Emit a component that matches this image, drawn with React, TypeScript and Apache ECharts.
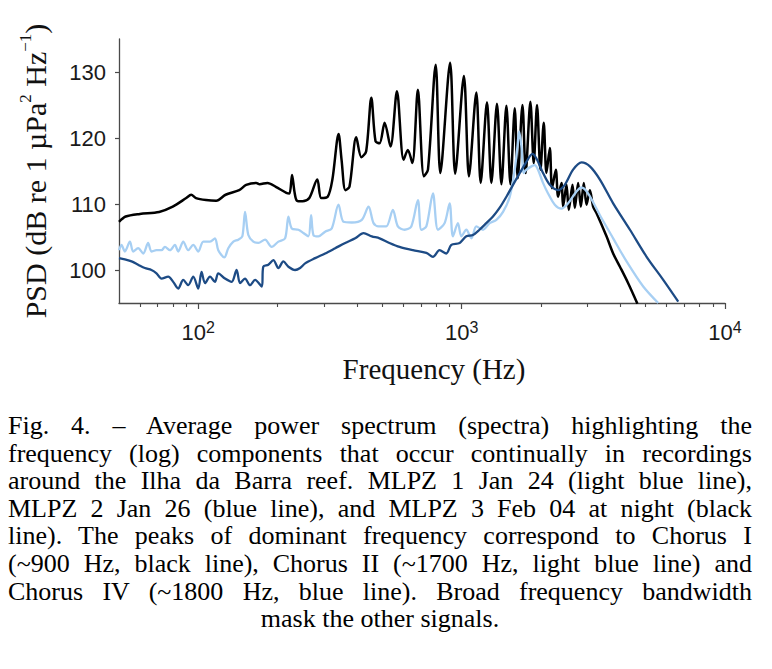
import React, { useEffect, useRef } from "react";
import * as echarts from "echarts";

// ---- Data (frequency in Hz, PSD in dB re 1 µPa² Hz⁻¹) ----
const blackFreq = [50, 53, 60, 71, 80, 90, 94, 98, 107, 117, 127, 143, 152, 166, 171, 183, 197, 216, 222, 227, 232, 237, 249, 264, 283, 293, 310, 323, 341, 350, 362, 375, 398, 416, 434, 454, 471, 488, 510, 537, 568, 602, 625, 650, 682, 719, 745, 797, 830, 904, 945, 1020, 1066, 1137, 1181, 1248, 1297, 1362, 1416, 1479, 1532, 1591, 1633, 1702, 1751, 1824, 1878, 1933, 1992, 2050, 2099, 2162, 2204, 2278, 2324, 2394, 2428, 2501, 2552, 2636, 2690, 2769, 2835, 2910, 2980, 3069, 3157, 3253, 3549, 3761, 3991, 4289, 4650];
const blackPsd = [107.3, 108.1, 108.5, 108.8, 109.6, 110.9, 111.4, 110.9, 110.6, 110.5, 111.4, 112.1, 112.9, 113.2, 113.0, 113.2, 112.6, 111.7, 111.6, 114.4, 111.8, 110.5, 110.4, 110.9, 113.7, 110.9, 111.1, 113.7, 120.6, 116.7, 112.1, 112.6, 120.1, 117.1, 118.0, 126.1, 119.5, 119.2, 122.3, 118.7, 127.1, 116.7, 118.2, 116.2, 127.3, 114.2, 115.2, 131.1, 114.7, 131.4, 114.6, 129.4, 114.2, 126.9, 113.2, 125.4, 113.2, 125.2, 113.0, 124.9, 113.0, 124.5, 113.9, 125.0, 114.7, 125.5, 116.2, 125.0, 115.2, 122.3, 114.7, 118.5, 112.4, 115.2, 111.1, 113.2, 109.6, 112.9, 109.1, 112.9, 109.4, 113.2, 109.6, 113.2, 109.9, 112.1, 109.6, 108.6, 105.1, 102.5, 100.5, 98.0, 94.9];

const lightFreq = [50, 51.1, 52.6, 55.0, 56.6, 59.1, 61.8, 64.5, 66.4, 69.4, 72.5, 74.7, 78.1, 81.5, 83.9, 87.7, 91.6, 95.7, 100, 104.5, 110.8, 115.7, 119.1, 125.6, 130, 135.9, 141.9, 147, 150.5, 154.9, 161.8, 169.1, 179.3, 189.9, 201.5, 213.6, 219.9, 226.4, 240, 250.7, 261.9, 268.2, 273.7, 286, 303.1, 321.2, 340.7, 355.9, 382.7, 417.8, 443.1, 462.9, 483.5, 517.2, 548.1, 572.6, 607.3, 643.9, 682.2, 702.9, 734.4, 778.1, 812.9, 861.7, 900.4, 926.6, 968, 997.4, 1042, 1089, 1137, 1205, 1278, 1355, 1436, 1523, 1591, 1629, 1652, 1687, 1721, 1762, 1841, 1895, 1950, 2037, 2129, 2258, 2394, 2537, 2730, 2852, 3021, 3350, 3761, 4229, 4892, 5577];
const lightPsd = [103.0, 103.8, 102.8, 104.3, 102.8, 103.3, 102.5, 104.1, 102.8, 103.0, 103.0, 103.5, 103.0, 103.8, 102.8, 104.3, 103.0, 103.8, 102.8, 104.3, 104.3, 104.8, 103.0, 101.9, 103.3, 104.3, 104.6, 105.1, 108.8, 105.3, 104.3, 104.1, 104.6, 103.5, 104.3, 104.8, 108.1, 106.3, 106.1, 105.6, 105.1, 108.3, 105.3, 105.1, 105.8, 106.3, 109.9, 107.3, 107.2, 107.6, 109.6, 107.1, 106.6, 106.6, 109.1, 106.6, 106.1, 106.6, 110.6, 106.1, 106.6, 111.6, 106.1, 107.1, 110.1, 105.1, 107.1, 105.1, 106.1, 104.8, 106.6, 106.1, 107.1, 107.6, 108.8, 111.1, 115.2, 118.7, 121.0, 118.7, 114.7, 115.2, 115.7, 115.9, 115.2, 113.2, 111.6, 109.9, 109.3, 110.1, 111.9, 112.5, 111.6, 108.3, 104.8, 101.3, 97.5, 95.0];

const darkFreq = [50, 52.6, 55.8, 59.1, 62.7, 66.4, 69.4, 72.5, 76.9, 80.3, 83.9, 87.7, 91.6, 95.7, 100, 102.9, 106.1, 110.8, 115.7, 119.1, 126.3, 133.9, 139.8, 144.1, 150.5, 157.3, 164.3, 174.1, 176.6, 184.5, 192.8, 201.5, 210.4, 219.9, 233.2, 243.6, 254.5, 277.8, 303.1, 331.1, 361.3, 394.3, 424.1, 456, 488, 532, 581, 653, 734.4, 778.1, 824, 874.5, 913.8, 982.7, 1042, 1104, 1169, 1241, 1315, 1393, 1479, 1567, 1663, 1762, 1857, 1923, 2037, 2162, 2324, 2464, 2650, 2852, 3069, 3350, 3761, 4356, 5039, 5827, 6645];
const darkPsd = [101.8, 101.6, 101.3, 100.8, 100.3, 100.0, 99.5, 98.7, 99.0, 98.2, 97.2, 98.5, 97.7, 99.0, 97.2, 99.7, 98.0, 99.0, 98.2, 99.5, 98.7, 98.2, 100.0, 98.0, 98.7, 97.7, 98.5, 97.5, 100.5, 100.8, 101.5, 100.3, 101.3, 100.5, 100.0, 100.3, 101.0, 101.8, 102.5, 103.3, 104.1, 104.8, 105.6, 105.1, 104.8, 104.1, 103.5, 103.0, 102.6, 102.0, 103.0, 102.5, 103.8, 104.1, 105.1, 105.3, 106.1, 107.1, 108.1, 109.4, 111.1, 112.9, 114.7, 116.4, 117.6, 116.9, 114.7, 112.9, 112.1, 112.9, 115.2, 116.3, 115.7, 113.7, 110.1, 106.1, 102.0, 98.5, 95.2];

// axis ticks
const xMinHz = 50;
const xMaxHz = 10000;
const majorTickHz = [100, 1000, 10000];
const minorTickHz = [60, 70, 80, 90, 200, 300, 400, 500, 600, 700, 800, 900, 2000, 3000, 4000, 5000, 6000, 7000, 8000, 9000];
const yMin = 95;
const yMax = 135;
const yTicks = [100, 110, 120, 130];

const captionLines = [
  "Fig. 4. \u2013 Average power spectrum (spectra) highlighting the",
  "frequency (log) components that occur continually in recordings",
  "around the Ilha da Barra reef. MLPZ 1 Jan 24 (light blue line),",
  "MLPZ 2 Jan 26 (blue line), and MLPZ 3 Feb 04 at night (black",
  "line). The peaks of dominant frequency correspond to Chorus I",
  "(~900 Hz, black line), Chorus II (~1700 Hz, light blue line) and",
  "Chorus IV (~1800 Hz, blue line). Broad frequency bandwidth",
  "mask the other signals.",
];

const AXIS = "#4a4a4a";
const SANS = '"Liberation Sans", Arial, sans-serif';
const SERIF = '"Liberation Serif", "Times New Roman", serif';

const toPairs = (f: number[], v: number[]) => f.map((x, i) => [Math.log10(x), v[i]]);

function buildOption() {
  const lineSeries = (name: string, f: number[], v: number[], color: string, width: number) => ({
    name,
    type: "line",
    data: toPairs(f, v),
    showSymbol: false,
    symbol: "none",
    smooth: 0.3,
    clip: true,
    lineStyle: { color, width },
  });
  return {
    animation: false,
    backgroundColor: "#ffffff",
    grid: { left: 119, top: 39, width: 606, height: 264, containLabel: false },
    xAxis: [
      {
        type: "value",
        min: Math.log10(xMinHz),
        max: Math.log10(xMaxHz),
        position: "bottom",
        axisLine: { show: true, lineStyle: { color: AXIS, width: 1.3 } },
        axisTick: {
          show: true,
          customValues: majorTickHz.map((h) => Math.log10(h)),
          length: 6,
          lineStyle: { color: AXIS, width: 1.2 },
        },
        axisLabel: {
          customValues: majorTickHz.map((h) => Math.log10(h)),
          margin: 16,
          formatter: (v: number) => `{b|10}{s|${Math.round(v)}}`,
          rich: {
            b: { fontSize: 22, fontFamily: SANS, color: "#1a1a1a", lineHeight: 26 },
            s: { fontSize: 16, fontFamily: SANS, color: "#1a1a1a", lineHeight: 10, verticalAlign: "top" },
          },
        },
        splitLine: { show: false },
        name: "Frequency (Hz)",
        nameLocation: "middle",
        nameGap: 51,
        nameTextStyle: {
          fontFamily: SERIF,
          fontSize: 29,
          color: "#111",
          padding: [0, 0, 0, 24],
        },
      },
      {
        type: "value",
        min: Math.log10(xMinHz),
        max: Math.log10(xMaxHz),
        position: "bottom",
        offset: 0,
        axisLine: { show: false },
        axisTick: {
          show: true,
          customValues: minorTickHz.map((h) => Math.log10(h)),
          length: 4,
          lineStyle: { color: AXIS, width: 1.1 },
        },
        axisLabel: { show: false },
        splitLine: { show: false },
      },
    ],
    yAxis: {
      type: "value",
      min: yMin,
      max: yMax,
      axisLine: { show: true, lineStyle: { color: AXIS, width: 1.3 } },
      axisTick: { show: true, customValues: yTicks, length: 4, lineStyle: { color: AXIS, width: 1.2 } },
      axisLabel: {
        customValues: yTicks,
        margin: 13,
        fontSize: 22,
        fontFamily: SANS,
        color: "#1a1a1a",
      },
      splitLine: { show: false },
      name: "PSD (dB re 1 \u00b5Pa{s|2} Hz{s|\u22121})",
      nameLocation: "middle",
      nameRotate: 90,
      nameGap: 66,
      nameTextStyle: {
        fontFamily: SERIF,
        fontSize: 30,
        color: "#111",
        lineHeight: 36,
        padding: [0, 0, 0, 0],
        rich: {
          s: { fontFamily: SERIF, fontSize: 17, color: "#111", lineHeight: 14, verticalAlign: "top" },
        },
      },
    },
    series: [
      lineSeries("MLPZ 3 Feb 04 (night)", blackFreq, blackPsd, "#000000", 2.5),
      lineSeries("MLPZ 1 Jan 24", lightFreq, lightPsd, "#a7cff3", 2.3),
      lineSeries("MLPZ 2 Jan 26", darkFreq, darkPsd, "#1d4b85", 2.3),
    ],
  };
}

export default function App() {
  const ref = useRef<HTMLDivElement>(null);
  useEffect(() => {
    if (!ref.current) return;
    const chart = echarts.init(ref.current, null, { renderer: "svg" });
    chart.setOption(buildOption() as any);
    return () => chart.dispose();
  }, []);
  const last = captionLines.length - 1;
  return (
    <div style={{ position: "absolute", left: 0, top: 0, width: 772, height: 669, background: "#fff" }}>
      <div ref={ref} style={{ position: "absolute", left: 0, top: 0, width: 772, height: 400 }} />
      <div
        style={{
          position: "absolute",
          left: 8,
          top: 412,
          width: 744,
          fontFamily: SERIF,
          fontSize: 26,
          lineHeight: "27.6px",
          color: "#000",
        }}
      >
        {captionLines.map((line, i) => (
          <div
            key={i}
            style={{
              textAlign: i === last ? "center" : "justify",
              textAlignLast: i === last ? "center" : "justify",
            } as any}
          >
            {line}
          </div>
        ))}
      </div>
    </div>
  );
}
